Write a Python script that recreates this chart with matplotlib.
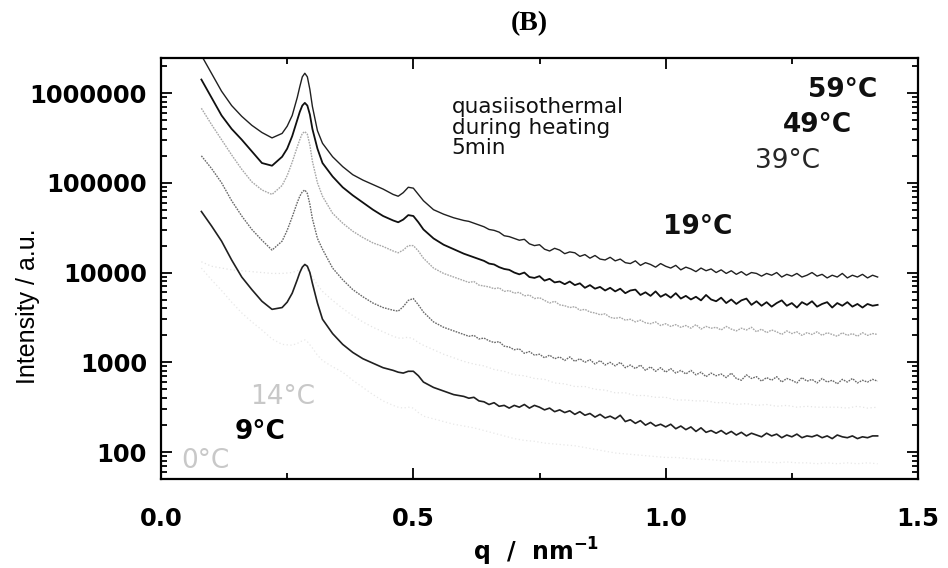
import numpy as np
import matplotlib
matplotlib.use("Agg")
import matplotlib.pyplot as plt
from matplotlib.ticker import LogLocator, MultipleLocator, FixedLocator, NullFormatter

# ---------------- data (log10 of intensity) ----------------
q_left = [0.08, 0.10, 0.12, 0.14, 0.16, 0.18, 0.20, 0.22, 0.24, 0.25, 0.26, 0.27,
          0.275, 0.28, 0.285, 0.29, 0.295, 0.30, 0.31, 0.32,
          0.34, 0.36, 0.38, 0.40, 0.42, 0.44, 0.46,
          0.47, 0.48, 0.49, 0.50, 0.51, 0.52, 0.54, 0.56, 0.58]
q_right = [0.60, 0.61, 0.62, 0.63, 0.64, 0.65, 0.66, 0.67, 0.68, 0.69,
           0.70, 0.71, 0.72, 0.73, 0.74, 0.75, 0.76, 0.77, 0.78, 0.79,
           0.80, 0.81, 0.82, 0.83, 0.84, 0.85, 0.86, 0.87, 0.88, 0.89,
           0.90, 0.91, 0.92, 0.93, 0.94, 0.95, 0.96, 0.97, 0.98, 0.99,
           1.00, 1.01, 1.02, 1.03, 1.04, 1.05, 1.06, 1.07, 1.08, 1.09,
           1.10, 1.11, 1.12, 1.13, 1.14, 1.15, 1.16, 1.17, 1.18, 1.19,
           1.20, 1.21, 1.22, 1.23, 1.24, 1.25, 1.26, 1.27, 1.28, 1.29,
           1.30, 1.31, 1.32, 1.33, 1.34, 1.35, 1.36, 1.37, 1.38, 1.39,
           1.40, 1.41, 1.42]
q = q_left + q_right

logI_59 = [6.42, 6.22, 6.02, 5.86, 5.74, 5.64, 5.56, 5.50, 5.55, 5.63, 5.75, 5.95,
           6.07, 6.18, 6.22, 6.18, 6.04, 5.85, 5.58, 5.44,
           5.29, 5.18, 5.09, 5.03, 4.98, 4.93, 4.87,
           4.85, 4.89, 4.95, 4.94, 4.87, 4.80, 4.70, 4.65, 4.61,
           4.58, 4.57, 4.55, 4.53, 4.51, 4.48, 4.47, 4.45, 4.41, 4.40,
           4.38, 4.36, 4.37, 4.32, 4.30, 4.31, 4.26, 4.24, 4.27, 4.25,
           4.21, 4.23, 4.22, 4.18, 4.20, 4.16, 4.19, 4.15, 4.14, 4.17,
           4.13, 4.15, 4.11, 4.10, 4.13, 4.08, 4.11, 4.09, 4.06, 4.10,
           4.07, 4.05, 4.08, 4.03, 4.06, 4.04, 4.01, 4.05, 4.02, 4.04,
           4.00, 4.03, 3.99, 4.02, 3.98, 4.01, 3.97, 4.00, 3.99, 3.96,
           3.99, 3.97, 4.00, 3.95, 3.98, 3.96, 3.99, 3.95, 3.97, 4.00,
           3.96, 3.98, 3.94, 3.97, 3.95, 3.99, 3.94, 3.97, 3.95, 3.98,
           3.94, 3.97, 3.95]

logI_49 = [6.15, 5.95, 5.75, 5.60, 5.48, 5.35, 5.22, 5.19, 5.29, 5.38, 5.52, 5.70,
           5.79, 5.86, 5.89, 5.86, 5.76, 5.60, 5.38, 5.22,
           5.07, 4.95, 4.86, 4.78, 4.70, 4.63, 4.58,
           4.56, 4.59, 4.64, 4.63, 4.56, 4.48, 4.38, 4.31, 4.26,
           4.21, 4.19, 4.17, 4.15, 4.13, 4.10, 4.09, 4.06, 4.04, 4.03,
           4.00, 3.98, 4.00, 3.95, 3.94, 3.96, 3.91, 3.93, 3.89, 3.90,
           3.87, 3.90, 3.86, 3.88, 3.83, 3.86, 3.82, 3.84, 3.80, 3.83,
           3.79, 3.82, 3.77, 3.80, 3.81, 3.75, 3.78, 3.74, 3.79, 3.73,
           3.76, 3.72, 3.77, 3.71, 3.74, 3.70, 3.73, 3.69, 3.75, 3.70,
           3.68, 3.72, 3.66, 3.70, 3.65, 3.69, 3.71, 3.64, 3.68, 3.63,
           3.67, 3.62, 3.66, 3.69, 3.63, 3.66, 3.61, 3.67, 3.64, 3.68,
           3.62, 3.65, 3.67, 3.61, 3.66, 3.63, 3.67, 3.62, 3.65, 3.61,
           3.65, 3.63, 3.64]

logI_39 = [5.83, 5.65, 5.48, 5.31, 5.15, 5.01, 4.92, 4.87, 4.97, 5.08, 5.23, 5.40,
           5.48, 5.55, 5.57, 5.54, 5.42, 5.24, 5.00, 4.85,
           4.66, 4.55, 4.46, 4.39, 4.33, 4.29, 4.24,
           4.22, 4.25, 4.30, 4.30, 4.24, 4.16, 4.05, 3.99, 3.95,
           3.91, 3.89, 3.90, 3.86, 3.85, 3.84, 3.82, 3.83, 3.79, 3.80,
           3.77, 3.78, 3.74, 3.75, 3.71, 3.72, 3.69, 3.66, 3.68, 3.64,
           3.63, 3.61, 3.62, 3.58, 3.59, 3.56, 3.55, 3.53, 3.54, 3.50,
           3.49, 3.50, 3.47, 3.48, 3.45, 3.47, 3.44, 3.43, 3.45, 3.41,
           3.43, 3.40, 3.42, 3.39, 3.41, 3.38, 3.42, 3.37, 3.40, 3.38,
           3.39, 3.36, 3.40, 3.37, 3.35, 3.38, 3.36, 3.39, 3.34, 3.37,
           3.33, 3.36, 3.34, 3.31, 3.35, 3.32, 3.34, 3.30, 3.33, 3.31,
           3.34, 3.30, 3.33, 3.31, 3.29, 3.33, 3.30, 3.32, 3.29, 3.33,
           3.30, 3.32, 3.31]

logI_19 = [5.30, 5.16, 5.00, 4.80, 4.63, 4.48, 4.36, 4.25, 4.35, 4.47, 4.62, 4.78,
           4.85, 4.90, 4.92, 4.88, 4.76, 4.60, 4.38, 4.26,
           4.05, 3.92, 3.81, 3.73, 3.66, 3.61, 3.58,
           3.57, 3.62, 3.69, 3.71, 3.64, 3.56, 3.45, 3.39, 3.35,
           3.31, 3.29, 3.30, 3.26, 3.27, 3.24, 3.22, 3.23, 3.18, 3.17,
           3.14, 3.15, 3.10, 3.12, 3.08, 3.09, 3.05, 3.08, 3.04, 3.06,
           3.02, 3.06, 3.01, 3.04, 3.00, 3.03, 2.98, 3.02, 2.97, 3.00,
           2.96, 3.00, 2.94, 2.97, 2.93, 2.97, 2.91, 2.95, 2.90, 2.94,
           2.89, 2.93, 2.88, 2.91, 2.87, 2.91, 2.86, 2.89, 2.84, 2.88,
           2.85, 2.87, 2.83, 2.88, 2.82, 2.80, 2.86, 2.82, 2.84, 2.79,
           2.83, 2.80, 2.84, 2.78, 2.82, 2.80, 2.77, 2.83, 2.79, 2.81,
           2.77, 2.82, 2.78, 2.80, 2.76, 2.81, 2.78, 2.82, 2.77, 2.80,
           2.78, 2.81, 2.79]

logI_9 = [4.68, 4.52, 4.35, 4.14, 3.95, 3.81, 3.68, 3.59, 3.61, 3.67, 3.77, 3.92,
          4.00, 4.06, 4.09, 4.07, 4.00, 3.88, 3.66, 3.48,
          3.32, 3.20, 3.11, 3.04, 2.99, 2.94, 2.91,
          2.89, 2.88, 2.90, 2.90, 2.85, 2.78, 2.72, 2.68, 2.64,
          2.62, 2.60, 2.61, 2.57, 2.56, 2.53, 2.55, 2.51, 2.52, 2.49,
          2.52, 2.50, 2.53, 2.49, 2.52, 2.50, 2.47, 2.49, 2.45, 2.47,
          2.44, 2.46, 2.42, 2.45, 2.41, 2.43, 2.39, 2.42, 2.38, 2.40,
          2.37, 2.41, 2.34, 2.36, 2.32, 2.35, 2.30, 2.33, 2.29, 2.31,
          2.28, 2.31, 2.26, 2.29, 2.25, 2.28, 2.23, 2.27, 2.22, 2.24,
          2.21, 2.24, 2.20, 2.23, 2.19, 2.22, 2.18, 2.21, 2.19, 2.17,
          2.21, 2.18, 2.20, 2.16, 2.19, 2.17, 2.20, 2.16, 2.18, 2.17,
          2.19, 2.16, 2.18, 2.15, 2.19, 2.17, 2.16, 2.18, 2.15, 2.17,
          2.16, 2.18, 2.18]

# the two faint curves, read on a coarser grid
q_faint = [0.08, 0.10, 0.12, 0.14, 0.16, 0.18, 0.20, 0.22, 0.24, 0.26,
           0.27, 0.28, 0.285, 0.29, 0.30, 0.31, 0.32,
           0.34, 0.36, 0.38, 0.40, 0.42, 0.44, 0.46,
           0.47, 0.48, 0.49, 0.50, 0.51, 0.52,
           0.54, 0.56, 0.58, 0.60,
           0.62, 0.64, 0.66, 0.68, 0.70, 0.72, 0.74, 0.76, 0.78, 0.80,
           0.82, 0.84, 0.86, 0.88, 0.90, 0.92, 0.94, 0.96, 0.98, 1.00,
           1.02, 1.04, 1.06, 1.08, 1.10, 1.12, 1.14, 1.16, 1.18, 1.20,
           1.22, 1.24, 1.26, 1.28, 1.30, 1.32, 1.34, 1.36, 1.38, 1.40, 1.42]

logI_14 = [4.12, 4.07, 4.05, 4.03, 4.02, 4.01, 4.00, 3.99, 3.99, 4.00,
           4.02, 4.04, 4.05, 4.03, 3.95, 3.86, 3.79,
           3.69, 3.60, 3.52, 3.45, 3.39, 3.34, 3.29,
           3.27, 3.27, 3.28, 3.26, 3.22, 3.19,
           3.14, 3.09, 3.05, 3.01,
           2.98, 2.96, 2.92, 2.90, 2.86, 2.85, 2.82, 2.81, 2.77, 2.76,
           2.73, 2.73, 2.70, 2.69, 2.66, 2.66, 2.63, 2.63, 2.61, 2.61,
           2.58, 2.58, 2.57, 2.57, 2.55, 2.55, 2.53, 2.54, 2.52, 2.53,
           2.51, 2.52, 2.50, 2.51, 2.50, 2.50, 2.50, 2.49, 2.51, 2.49, 2.50]

logI_0 = [4.05, 3.92, 3.80, 3.67, 3.55, 3.45, 3.36, 3.26, 3.20, 3.19,
          3.21, 3.24, 3.25, 3.23, 3.16, 3.08, 3.02,
          2.95, 2.89, 2.80, 2.72, 2.64, 2.57, 2.52,
          2.50, 2.49, 2.50, 2.49, 2.44, 2.40,
          2.37, 2.34, 2.31, 2.29,
          2.27, 2.24, 2.21, 2.18, 2.15, 2.13, 2.12, 2.10, 2.09, 2.08,
          2.07, 2.05, 2.03, 2.01, 1.99, 1.98, 1.97, 1.96, 1.95, 1.94,
          1.94, 1.93, 1.92, 1.92, 1.91, 1.90, 1.90, 1.89, 1.89, 1.89,
          1.88, 1.89, 1.88, 1.88, 1.87, 1.88, 1.87, 1.88, 1.87, 1.88, 1.87]

temps = ["59°C", "49°C", "39°C", "19°C", "14°C", "9°C", "0°C"]
series = {
    "59°C": (q, logI_59),
    "49°C": (q, logI_49),
    "39°C": (q, logI_39),
    "19°C": (q, logI_19),
    "14°C": (q_faint, logI_14),
    "9°C": (q, logI_9),
    "0°C": (q_faint, logI_0),
}

x_ticks = [0.0, 0.5, 1.0, 1.5]
x_ticklabels = ["0.0", "0.5", "1.0", "1.5"]
y_ticks = [100, 1000, 10000, 100000, 1000000]
y_ticklabels = ["100", "1000", "10000", "100000", "1000000"]

# ---------------- styles ----------------
styles = {
    "59°C": dict(color="#202020", lw=1.0, ls="-"),
    "49°C": dict(color="#101010", lw=1.3, ls="-"),
    "39°C": dict(color="#a8a8a8", lw=1.0, ls=(0, (1.2, 0.8))),
    "19°C": dict(color="#6a6a6a", lw=1.0, ls=(0, (1.2, 0.8))),
    "14°C": dict(color="#e4e4e4", lw=0.9, ls=(0, (1, 2))),
    "9°C":  dict(color="#202020", lw=1.2, ls="-"),
    "0°C":  dict(color="#e8e8e8", lw=0.9, ls=(0, (1, 2))),
}

fig = plt.figure(figsize=(9.48, 5.68), dpi=100)
ax = fig.add_axes([161 / 948, 1 - 479 / 568, (918 - 161) / 948, (479 - 58) / 568])

for name in temps:
    xs, vals = series[name]
    st = styles[name]
    ax.plot(xs, np.power(10.0, vals), color=st["color"], lw=st["lw"], ls=st["ls"])

ax.set_yscale("log")
ax.set_xlim(0, 1.5)
ax.set_ylim(10 ** 1.70, 10 ** 6.39)

ax.xaxis.set_major_locator(FixedLocator(x_ticks))
ax.set_xticklabels(x_ticklabels)
ax.xaxis.set_minor_locator(MultipleLocator(0.25))
ax.yaxis.set_major_locator(FixedLocator(y_ticks))
ax.set_yticklabels(y_ticklabels)
ax.yaxis.set_minor_locator(LogLocator(base=10, subs=np.arange(2, 10), numticks=20))
ax.yaxis.set_minor_formatter(NullFormatter())

for lab in ax.get_xticklabels() + ax.get_yticklabels():
    lab.set_fontfamily("DejaVu Sans")
    lab.set_fontweight("bold")
    lab.set_fontsize(17.5)

ax.tick_params(which="both", direction="in", top=True, right=True, width=1.3)
ax.tick_params(which="major", length=8)
ax.tick_params(which="minor", length=4)
ax.tick_params(axis="x", which="major", pad=20)
ax.tick_params(axis="y", which="major", pad=10)
for sp in ax.spines.values():
    sp.set_linewidth(1.6)

ax.set_xlabel("q  /  nm$^{\\mathbf{-1}}$", fontsize=17, fontweight="bold", family="DejaVu Sans")
ax.xaxis.set_label_coords(0.495, -0.135)
ax.set_ylabel("Intensity / a.u.", fontsize=18,
              family=["Liberation Sans Narrow", "Liberation Sans", "DejaVu Sans"])
ax.yaxis.set_label_coords(-0.16, 0.41)

fig.text(0.558, 0.958, "(B)", ha="center", va="center", fontsize=20,
         fontweight="bold", family=["Liberation Serif", "DejaVu Serif"])

# curve labels
lab_pos = {
    "59°C": (0.900, 0.924, "#101010", "bold"),
    "49°C": (0.867, 0.841, "#101010", "bold"),
    "39°C": (0.828, 0.755, "#262626", "normal"),
    "19°C": (0.709, 0.599, "#101010", "bold"),
    "14°C": (0.161, 0.195, "#c8c8c8", "normal"),
    "9°C":  (0.131, 0.112, "#000000", "bold"),
    "0°C":  (0.058, 0.043, "#c8c8c8", "normal"),
}
for name in temps:
    x, y, c, w = lab_pos[name]
    ax.text(x, y, name, transform=ax.transAxes, ha="center", va="center",
            fontsize=19, fontweight=w, color=c, family="DejaVu Sans")

ax.text(0.384, 0.908, "quasiisothermal\nduring heating\n5min", transform=ax.transAxes,
        ha="left", va="top", fontsize=15.5, linespacing=1.05, family="DejaVu Sans",
        color="#101010")

fig.savefig("out.png", dpi=100)
